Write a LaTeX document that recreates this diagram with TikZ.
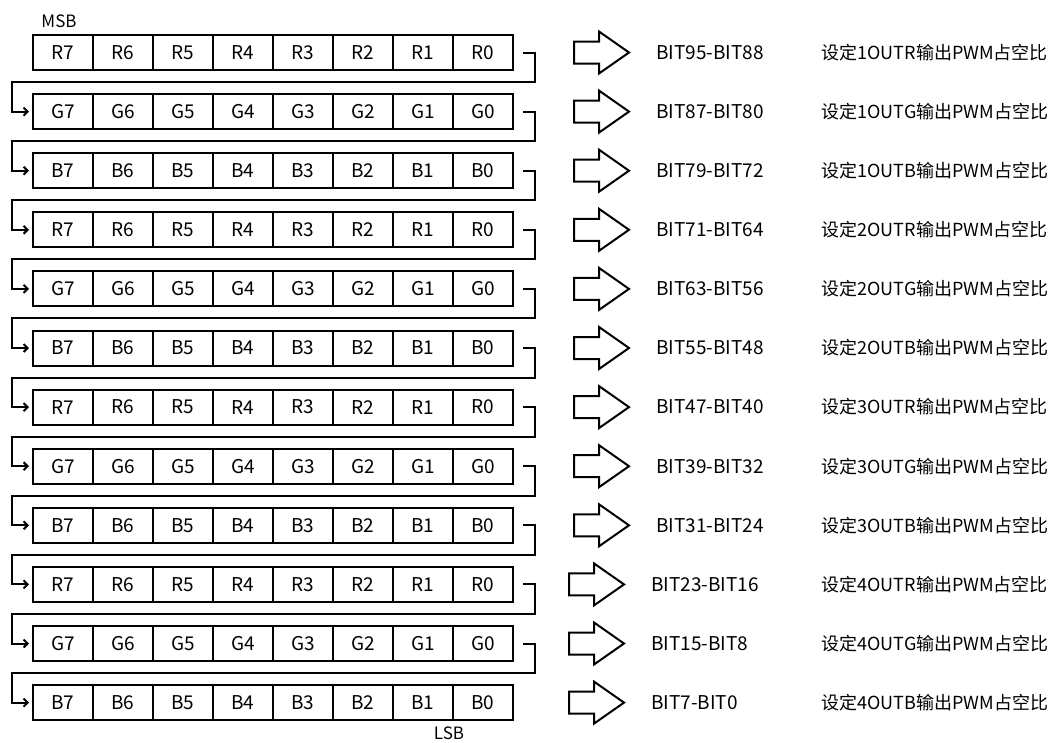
\documentclass[tikz,border=0pt]{standalone}
\usepackage{fontspec}
\setmainfont{Noto Sans CJK SC}
\usepackage{tikz}
\usetikzlibrary{shapes.arrows,arrows.meta,positioning}

\begin{document}
\begin{tikzpicture}[x=1pt,y=-1pt,
  cell/.style={rectangle,draw,line width=2pt,minimum width=60pt,minimum height=35pt,inner sep=0pt,font=\fontsize{19pt}{21pt}\selectfont},
  link/.style={line width=2pt,-{Straight Barb[length=4pt,width=8pt]}},
  fat/.style={single arrow,draw,line width=2pt,minimum height=55pt,inner xsep=0pt,inner ysep=10pt,single arrow head extend=10pt,single arrow tip angle=70,anchor=west},
  bits/.style={anchor=west,font=\fontsize{19pt}{21pt}\selectfont},
  desc/.style={anchor=west,font=\fontsize{18pt}{20pt}\selectfont},
  tag/.style={font=\fontsize{17pt}{19pt}\selectfont}]
\useasboundingbox (0,0) rectangle (1058,742);
% register cells, MSB first
\foreach \ch [count=\r from 0] in {R,G,B,R,G,B,R,G,B,R,G,B}
  \foreach \c/\bitno in {0/7,1/6,2/5,3/4,4/3,5/2,6/1,7/0}
    \node[cell] (c\r-\c) at ({63+60*\c},{52.5+59.1*\r}) {\ch\bitno};
% chain from one byte to the next
\foreach \r [evaluate=\r as \n using int(\r+1)] in {0,...,10}
  \draw[link] ([xshift=9pt]c\r-7.east) -- ++(12,0) |- (12,{82+59.1*\r}) |- ([xshift=-3pt]c\n-0.west);
% what each byte sets
\foreach \r/\range/\out/\ax in {0/BIT95-BIT88/1OUTR/573, 1/BIT87-BIT80/1OUTG/573, 2/BIT79-BIT72/1OUTB/573,
    3/BIT71-BIT64/2OUTR/573, 4/BIT63-BIT56/2OUTG/573, 5/BIT55-BIT48/2OUTB/573,
    6/BIT47-BIT40/3OUTR/573, 7/BIT39-BIT32/3OUTG/573, 8/BIT31-BIT24/3OUTB/573,
    9/BIT23-BIT16/4OUTR/568, 10/BIT15-BIT8/4OUTG/568, 11/BIT7-BIT0/4OUTB/568}
  {
  \node[fat] (a\r) at (\ax,{52.5+59.1*\r}) {};
  \node[bits,right=22pt of a\r] (b\r) {\range};
  \node[desc] (d\r) at (818,{52.5+59.1*\r}) {设定\out 输出PWM占空比};
  }
\node[tag] (msb) at (59,21) {MSB};
\node[tag] (lsb) at (449,733) {LSB};
\end{tikzpicture}
\end{document}
